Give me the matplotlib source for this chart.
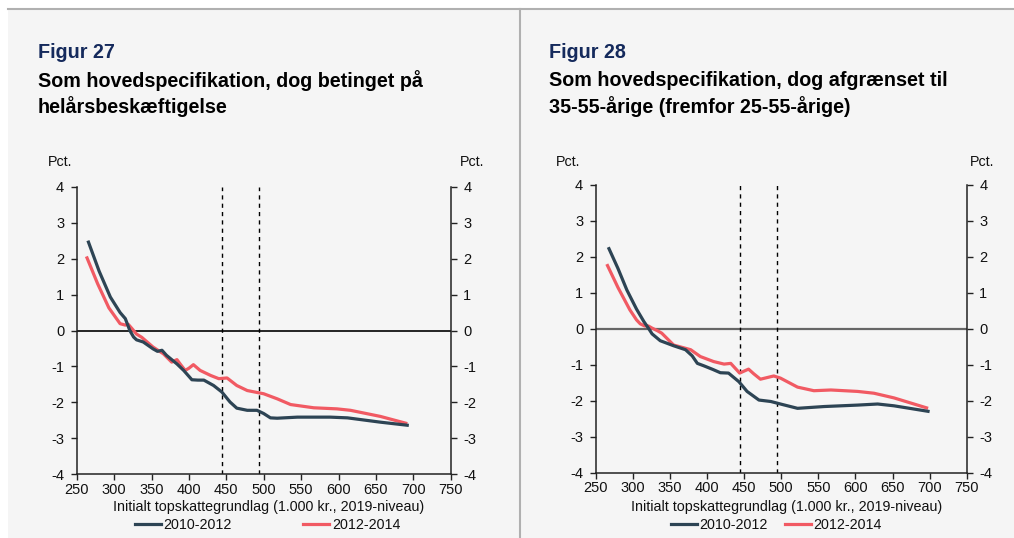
import matplotlib.pyplot as plt
from matplotlib.lines import Line2D

# Figur 27 data (x in 1.000 kr., y in pct.)
x27_a = [265, 280, 295, 308, 315, 321, 326, 330, 339, 352, 358, 364, 370, 384, 393, 404, 412, 420,
         433, 444, 455, 464, 478, 491, 500, 509, 518, 545, 589, 612, 656, 694]
y27_a = [2.50, 1.65, 0.93, 0.50, 0.33, 0.0, -0.18, -0.26, -0.32, -0.51, -0.58, -0.55, -0.69, -0.93,
         -1.11, -1.37, -1.38, -1.38, -1.53, -1.71, -1.99, -2.16, -2.22, -2.22, -2.31, -2.43, -2.44,
         -2.41, -2.41, -2.43, -2.55, -2.64]
x27_b = [263, 278, 293, 308, 315, 319, 324, 330, 337, 352, 366, 377, 384, 389, 395, 400, 406, 415,
         429, 440, 451, 464, 478, 500, 518, 536, 567, 598, 616, 656, 692]
y27_b = [2.06, 1.30, 0.63, 0.19, 0.15, 0.17, 0.05, -0.10, -0.19, -0.46, -0.65, -0.88, -0.81, -0.95,
         -1.11, -1.05, -0.95, -1.11, -1.25, -1.34, -1.32, -1.53, -1.67, -1.76, -1.90, -2.06, -2.15,
         -2.18, -2.22, -2.39, -2.59]

# Figur 28 data
x28_a = [267, 280, 292, 305, 315, 321, 326, 337, 355, 371, 380, 387, 396, 408, 418, 429, 443, 454,
         470, 486, 499, 522, 558, 603, 630, 652, 700]
y28_a = [2.27, 1.68, 1.08, 0.55, 0.20, 0.02, -0.14, -0.33, -0.47, -0.58, -0.75, -0.96, -1.03, -1.13,
         -1.22, -1.23, -1.47, -1.74, -1.98, -2.02, -2.09, -2.21, -2.16, -2.12, -2.09, -2.14, -2.30]
x28_b = [265, 280, 296, 305, 310, 316, 321, 326, 333, 339, 355, 378, 391, 409, 423, 432, 444, 456,
         463, 472, 490, 499, 522, 544, 567, 603, 625, 652, 698]
y28_b = [1.80, 1.15, 0.53, 0.25, 0.14, 0.08, 0.08, 0.02, -0.05, -0.12, -0.45, -0.58, -0.77, -0.91,
         -0.98, -0.96, -1.23, -1.12, -1.25, -1.40, -1.31, -1.37, -1.62, -1.72, -1.70, -1.74, -1.79,
         -1.92, -2.21]

vlines = [444, 494]
series_names = ["2010-2012", "2012-2014"]
titles = [("Figur 27", "Som hovedspecifikation, dog betinget på", "helårsbeskæftigelse"),
          ("Figur 28", "Som hovedspecifikation, dog afgrænset til", "35-55-årige (fremfor 25-55-årige)")]

DARK = "#2d4454"
RED = "#f15a63"
NAVY = "#152a5c"
BG = "#f5f5f5"

plt.rcParams['font.family'] = ['Liberation Sans', 'DejaVu Sans']
plt.rcParams['axes.unicode_minus'] = False

W, H = 1014, 538
fig = plt.figure(figsize=(W / 100, H / 100), dpi=100)
fig.patch.set_facecolor("white")


def px(x, y):
    return x / W, 1 - y / H


# panel background and separators
fig.patches.append(plt.Rectangle(px(8, 538), (W - 8) / W, (538 - 8) / H, transform=fig.transFigure,
                                 facecolor=BG, edgecolor="none", zorder=-5))
fig.lines.append(Line2D([8 / W, 1], [1 - 8.5 / H] * 2, transform=fig.transFigure, color="#b0b0b0", lw=1.5))
fig.lines.append(Line2D([519.5 / W] * 2, [0, 1 - 8.5 / H], transform=fig.transFigure, color="#b0b0b0", lw=1.5))


def draw_panel(rect, xa, ya, xb, yb, zero_color, zero_lw, title, tx, legend_gap, xlab_cx, leg_cx, pct_x):
    ax = fig.add_axes(rect)
    ax.set_facecolor(BG)
    ax.plot(xa, ya, color=DARK, lw=2.3, label=series_names[0], solid_capstyle="butt", zorder=4)
    ax.plot(xb, yb, color=RED, lw=2.3, label=series_names[1], solid_capstyle="butt", zorder=3)
    ax.axhline(0, color=zero_color, lw=zero_lw, zorder=2)
    for v in vlines:
        ax.axvline(v, color="black", lw=1.0, dashes=(3, 3), zorder=2)
    ax.set_xlim(250, 750)
    ax.set_ylim(-4, 4)
    ax.set_xticks(range(250, 751, 50))
    ax.set_yticks(range(-4, 5))
    ax.spines["top"].set_visible(False)
    for s in ["left", "right", "bottom"]:
        ax.spines[s].set_color("#222222")
        ax.spines[s].set_linewidth(1.1)
    ax.tick_params(axis="y", left=True, right=True, labelleft=True, labelright=True,
                   direction="out", length=4, width=1, labelsize=10.5, colors="#222222", pad=5)
    ax.tick_params(axis="x", direction="out", length=4, width=1, labelsize=10.5, colors="#222222", pad=2)
    for lbl in ax.get_xticklabels() + ax.get_yticklabels():
        lbl.set_color("#111111")

    fig.text(*px(xlab_cx, 507), "Initialt topskattegrundlag (1.000 kr., 2019-niveau)",
             ha="center", va="center", fontsize=10.3, color="#111111")
    handles = [Line2D([], [], color=DARK, lw=2.3), Line2D([], [], color=RED, lw=2.3)]
    fig.legend(handles, series_names, loc="center", bbox_to_anchor=px(leg_cx, 525), ncol=2,
               frameon=False, fontsize=10.3, handlelength=1.8, handletextpad=0.2,
               columnspacing=legend_gap, borderpad=0, labelcolor="#111111")
    fig.text(*px(pct_x[0], 162), "Pct.", ha="center", va="center", fontsize=10.3, color="#111111")
    fig.text(*px(pct_x[1], 162), "Pct.", ha="center", va="center", fontsize=10.3, color="#111111")

    fig.text(*px(tx, 52), title[0], ha="left", va="center", fontsize=14.2, fontweight="bold", color=NAVY)
    fig.text(*px(tx, 81), title[1], ha="left", va="center", fontsize=14.2, fontweight="bold", color="black")
    fig.text(*px(tx, 107), title[2], ha="left", va="center", fontsize=14.2, fontweight="bold", color="black")
    return ax


draw_panel([76.7 / W, (H - 474.3) / H, 374 / W, 287.6 / H], x27_a, y27_a, x27_b, y27_b,
           "black", 1.2, titles[0], 38, 5.0, 269, 267.5, (60, 472))
draw_panel([595.7 / W, (H - 472.7) / H, 371 / W, 287.7 / H], x28_a, y28_a, x28_b, y28_b,
           "#666666", 1.6, titles[1], 549, 1.2, 786.5, 776.5, (568, 982))

fig.savefig("out.png", dpi=100, facecolor=fig.get_facecolor())
